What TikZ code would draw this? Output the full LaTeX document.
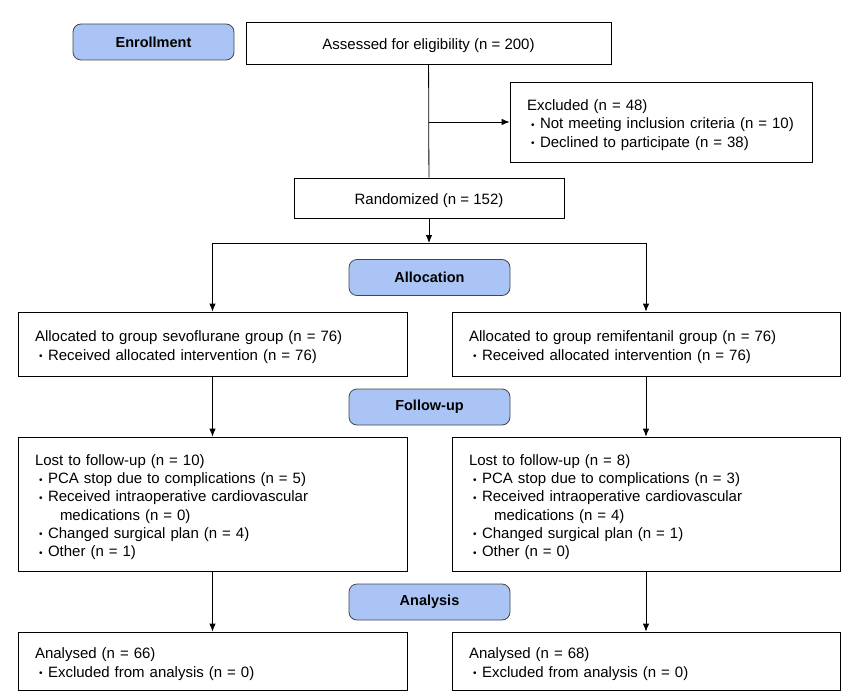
\documentclass[tikz,border=0pt]{standalone}
\usepackage{fontspec}
\setmainfont{Liberation Sans}
\usetikzlibrary{arrows.meta}
\definecolor{stagefill}{RGB}{170,197,245}
\definecolor{stageline}{RGB}{70,70,70}
\newcommand{\itm}[1]{\makebox[13pt][l]{\hspace{4pt}\raisebox{0.5pt}{\fontsize{10}{10}\selectfont\textbullet}}#1}
\newcommand{\cont}[1]{\hspace*{25pt}#1}

\begin{document}
\begin{tikzpicture}[x=1pt, y=-1pt, >={Latex[length=8pt,width=6.5pt]},
  box/.style={draw, line width=0.8pt, align=left, inner xsep=17pt, inner ysep=0pt,
    execute at begin node={\rule{0pt}{17pt}},
    font=\fontsize{15}{18.3}\selectfont},
  stage/.style={draw=stageline, line width=0.8pt, fill=stagefill, rounded corners=8pt,
    minimum width=161pt, minimum height=36pt, font=\bfseries\fontsize{14.5}{17}\selectfont}]
\useasboundingbox (0,0) rectangle (856,698);
% stage labels
\node[stage](enrol) at (153.5, 42) {Enrollment};
\node[stage](alloc) at (429.5, 277.5) {Allocation};
\node[stage](follow) at (429.5, 407) {Follow-up};
\node[stage](analysis) at (429.5, 602) {Analysis};
% enrollment
\node[box, align=center, minimum width=365pt, minimum height=42pt](assess) at (428.5, 43) {Assessed for eligibility (n = 200)};
\node[box, text width=268pt, minimum height=80pt](excl) at (661, 122) {Excluded (n = 48)\\
  \itm{Not meeting inclusion criteria (n = 10)}\\
  \itm{Declined to participate (n = 38)}};
\node[box, align=center, minimum width=270pt, minimum height=40pt](rand) at (429, 198) {Randomized (n = 152)};
% allocation
\node[box, text width=355pt, minimum height=64pt](sevo) at (212.5, 344) {Allocated to group sevoflurane group (n = 76)\\
  \itm{Received allocated intervention (n = 76)}};
\node[box, text width=354pt, minimum height=64pt](remi) at (646, 344) {Allocated to group remifentanil group (n = 76)\\
  \itm{Received allocated intervention (n = 76)}};
% follow-up
\node[box, text width=355pt, minimum height=134pt](lostS) at (212.5, 504) {Lost to follow-up (n = 10)\\
  \itm{PCA stop due to complications (n = 5)}\\
  \itm{Received intraoperative cardiovascular}\\
  \cont{medications (n = 0)}\\
  \itm{Changed surgical plan (n = 4)}\\
  \itm{Other (n = 1)}};
\node[box, text width=354pt, minimum height=134pt](lostR) at (646, 504) {Lost to follow-up (n = 8)\\
  \itm{PCA stop due to complications (n = 3)}\\
  \itm{Received intraoperative cardiovascular}\\
  \cont{medications (n = 4)}\\
  \itm{Changed surgical plan (n = 1)}\\
  \itm{Other (n = 0)}};
% analysis
\node[box, text width=355pt, minimum height=58pt](anaS) at (212.5, 661) {Analysed (n = 66)\\
  \itm{Excluded from analysis (n = 0)}};
\node[box, text width=354pt, minimum height=58pt](anaR) at (646, 661) {Analysed (n = 68)\\
  \itm{Excluded from analysis (n = 0)}};
% connectors
\coordinate(split) at (assess.south |- excl.west);
\coordinate(fork) at (429, 243);
\draw[line width=0.8pt] (assess) -- (rand);
\draw[line width=0.8pt, ->] (split) -- (excl);
\draw[line width=0.8pt, ->] (rand) -- (fork);
\draw[line width=0.8pt, ->] (fork) -| (sevo);
\draw[line width=0.8pt, ->] (fork) -| (remi);
\draw[line width=0.8pt, ->] (sevo) -- (lostS);
\draw[line width=0.8pt, ->] (remi) -- (lostR);
\draw[line width=0.8pt, ->] (lostS) -- (anaS);
\draw[line width=0.8pt, ->] (lostR) -- (anaR);
\end{tikzpicture}
\end{document}
